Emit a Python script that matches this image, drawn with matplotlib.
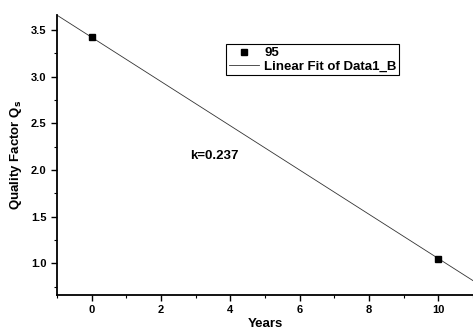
import numpy as np
import matplotlib
matplotlib.use("Agg")
import matplotlib.pyplot as plt
from matplotlib.ticker import MultipleLocator

plt.rcParams['font.family'] = ['Liberation Sans', 'DejaVu Sans']
plt.rcParams['font.weight'] = 'bold'
plt.rcParams['axes.labelweight'] = 'bold'
plt.rcParams['mathtext.default'] = 'bf'

# data
years = [0, 10]
q_values = [3.42, 1.05]
fit_slope = -0.237
fit_intercept = 3.42
series_label = '95'
fit_label = 'Linear Fit of Data1_B'

fig = plt.figure(figsize=(4.73, 3.31), dpi=100)
ax = fig.add_axes([0.1205, 0.109, 0.8795, 0.846])

x_fit = np.array([-1, 11])
ax.plot(x_fit, fit_intercept + fit_slope * x_fit, color='#333333', lw=0.6,
        label=fit_label)
ax.plot(years, q_values, 's', color='black', ms=4.5, label=series_label)

ax.set_xlim(-1, 11)
ax.set_ylim(0.66, 3.66)
ax.xaxis.set_major_locator(MultipleLocator(2))
ax.xaxis.set_minor_locator(MultipleLocator(1))
ax.yaxis.set_major_locator(MultipleLocator(0.5))
ax.yaxis.set_minor_locator(MultipleLocator(0.25))
ax.tick_params(which='major', direction='out', length=4, width=1, labelsize=8)
ax.tick_params(which='minor', direction='out', length=2.5, width=0.8)

ax.spines['top'].set_visible(False)
ax.spines['right'].set_visible(False)
ax.spines['left'].set_linewidth(1.3)
ax.spines['bottom'].set_linewidth(1.3)

ax.set_xlabel('Years', fontsize=9.5, labelpad=2)
ax.set_ylabel('Quality Factor Q$_s$', fontsize=9.5, labelpad=5)

ax.text(2.85, 2.15, 'k=0.237', fontsize=9.5, va='center')

handles, labels = ax.get_legend_handles_labels()
leg = ax.legend(handles[::-1], labels[::-1], loc='upper left',
                bbox_to_anchor=(0.478, 0.866), bbox_transform=fig.transFigure,
                fancybox=False, edgecolor='black', fontsize=9.5,
                borderaxespad=0, handlelength=2.3, handletextpad=0.4,
                borderpad=0.2, labelspacing=0.1, framealpha=1)
leg.get_frame().set_linewidth(0.8)

fig.savefig('out.png', dpi=100)
